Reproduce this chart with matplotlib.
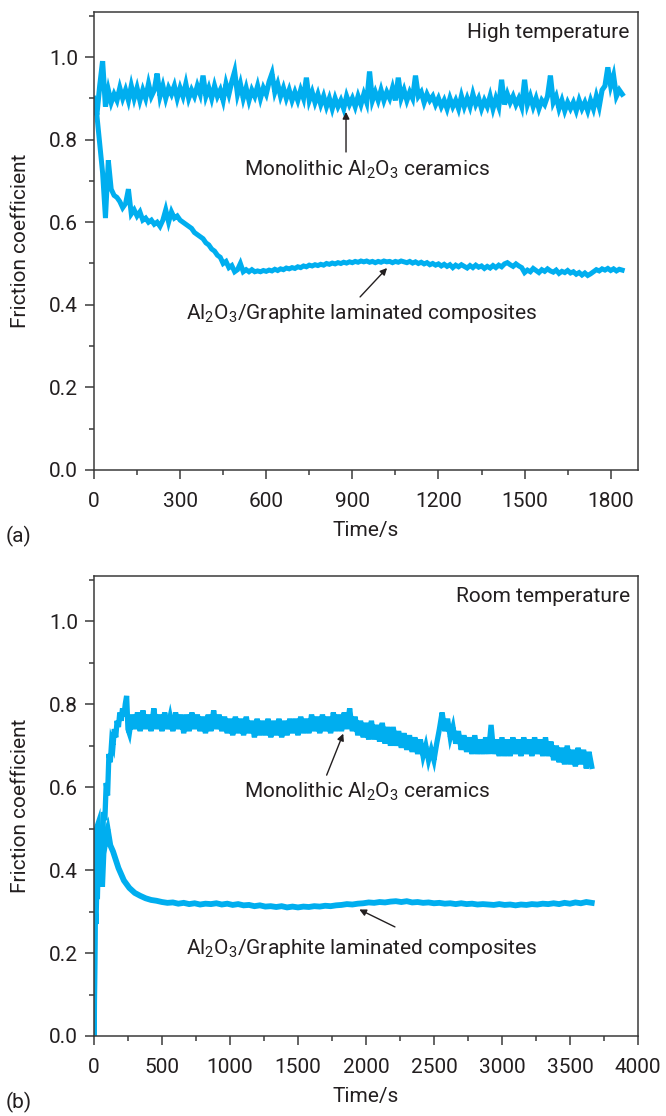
import numpy as np
import matplotlib
matplotlib.use("Agg")
import matplotlib.pyplot as plt
from matplotlib import font_manager
from matplotlib.ticker import MultipleLocator

# ---------------- data ----------------
# (a) high temperature, t = 0..1840 s every 10 s
t_high = np.arange(0, 1841, 10)
ceramic_high = [
    0.89, 0.86, 0.93, 0.99, 0.88, 0.92, 0.89, 0.91, 0.895, 0.925,
    0.90, 0.92, 0.895, 0.93, 0.90, 0.925, 0.895, 0.92, 0.90, 0.935,
    0.905, 0.92, 0.96, 0.905, 0.93, 0.90, 0.925, 0.91, 0.93, 0.90,
    0.925, 0.905, 0.935, 0.90, 0.92, 0.905, 0.93, 0.91, 0.955, 0.905,
    0.925, 0.90, 0.93, 0.905, 0.92, 0.895, 0.935, 0.91, 0.94, 0.965,
    0.91, 0.935, 0.90, 0.925, 0.895, 0.92, 0.905, 0.93, 0.90, 0.925,
    0.91, 0.94, 0.96, 0.915, 0.935, 0.905, 0.925, 0.90, 0.92, 0.895,
    0.915, 0.895, 0.92, 0.90, 0.95, 0.895, 0.915, 0.89, 0.91, 0.885,
    0.905, 0.88, 0.90, 0.875, 0.90, 0.88, 0.895, 0.875, 0.905, 0.885,
    0.90, 0.88, 0.905, 0.885, 0.91, 0.89, 0.965, 0.895, 0.915, 0.895,
    0.92, 0.895, 0.915, 0.90, 0.925, 0.895, 0.95, 0.90, 0.92, 0.895,
    0.915, 0.90, 0.955, 0.905, 0.915, 0.89, 0.91, 0.895, 0.905, 0.885,
    0.90, 0.88, 0.895, 0.875, 0.90, 0.88, 0.895, 0.875, 0.905, 0.88,
    0.90, 0.88, 0.91, 0.885, 0.90, 0.875, 0.895, 0.88, 0.905, 0.875,
    0.90, 0.88, 0.945, 0.885, 0.91, 0.89, 0.905, 0.885, 0.90, 0.88,
    0.945, 0.885, 0.905, 0.88, 0.90, 0.875, 0.895, 0.885, 0.905, 0.955,
    0.89, 0.905, 0.875, 0.895, 0.87, 0.89, 0.875, 0.89, 0.87, 0.895,
    0.875, 0.89, 0.87, 0.895, 0.875, 0.905, 0.88, 0.92, 0.93, 0.975,
    0.93, 0.955, 0.905, 0.92, 0.91,
]
composite_high = [
    0.90, 0.86, 0.79, 0.72, 0.61, 0.75, 0.68, 0.665, 0.66, 0.65,
    0.635, 0.645, 0.68, 0.62, 0.63, 0.615, 0.625, 0.605, 0.61, 0.60,
    0.605, 0.595, 0.60, 0.59, 0.605, 0.63, 0.60, 0.625, 0.61, 0.615,
    0.605, 0.60, 0.595, 0.59, 0.585, 0.575, 0.57, 0.565, 0.56, 0.55,
    0.545, 0.535, 0.53, 0.52, 0.515, 0.50, 0.505, 0.49, 0.495, 0.48,
    0.485, 0.50, 0.48, 0.485, 0.48, 0.485, 0.48, 0.482, 0.48, 0.483,
    0.481, 0.484, 0.482, 0.486, 0.483, 0.487, 0.485, 0.489, 0.487, 0.49,
    0.488, 0.492, 0.49, 0.494, 0.492, 0.496, 0.494, 0.497, 0.495, 0.498,
    0.496, 0.50, 0.498, 0.501, 0.499, 0.502, 0.50, 0.503, 0.501, 0.504,
    0.502, 0.505, 0.503, 0.506, 0.504, 0.506, 0.503, 0.505, 0.502, 0.505,
    0.503, 0.506, 0.504, 0.505, 0.502, 0.505, 0.503, 0.506, 0.504, 0.502,
    0.505, 0.501, 0.504, 0.50, 0.503, 0.499, 0.502, 0.497, 0.50, 0.496,
    0.499, 0.494, 0.498, 0.493, 0.497, 0.49, 0.496, 0.492, 0.497, 0.493,
    0.489, 0.495, 0.49, 0.496, 0.491, 0.494, 0.488, 0.493, 0.489, 0.495,
    0.49, 0.496, 0.492, 0.499, 0.502, 0.497, 0.493, 0.499, 0.494, 0.49,
    0.478, 0.484, 0.48, 0.488, 0.483, 0.478, 0.485, 0.481, 0.487, 0.482,
    0.479, 0.484, 0.476, 0.481, 0.478, 0.483, 0.477, 0.48, 0.474, 0.478,
    0.472, 0.477, 0.471, 0.475, 0.48, 0.485, 0.482, 0.487, 0.484, 0.488,
    0.483, 0.487, 0.482, 0.486, 0.484,
]

# (b) room temperature
t_room_ceramic = np.concatenate([
    [0, 5, 10, 15, 20, 25, 30, 40, 50, 60, 70, 80, 90, 100, 110, 120, 130, 140,
     150, 160, 170, 180, 190, 200, 210, 220, 230, 240, 250, 260],
    np.arange(280, 3661, 20)])
ceramic_room = [
    0.0, 0.15, 0.30, 0.27, 0.35, 0.33, 0.40, 0.37, 0.46, 0.42,
    0.54, 0.52, 0.61, 0.58, 0.68, 0.66, 0.71, 0.70, 0.74, 0.72,
    0.76, 0.745, 0.78, 0.76, 0.79, 0.77, 0.80, 0.82, 0.74, 0.73,
    0.775, 0.74, 0.78, 0.735, 0.785, 0.74, 0.775, 0.735, 0.79, 0.74,
    0.775, 0.735, 0.78, 0.74, 0.77, 0.735, 0.78, 0.74, 0.775, 0.73,
    0.775, 0.735, 0.78, 0.74, 0.775, 0.735, 0.77, 0.73, 0.775, 0.735,
    0.785, 0.74, 0.775, 0.735, 0.77, 0.73, 0.765, 0.725, 0.77, 0.73,
    0.765, 0.725, 0.77, 0.73, 0.76, 0.72, 0.765, 0.725, 0.76, 0.725,
    0.765, 0.72, 0.76, 0.725, 0.765, 0.72, 0.76, 0.725, 0.765, 0.73,
    0.765, 0.725, 0.77, 0.73, 0.765, 0.73, 0.775, 0.735, 0.77, 0.73,
    0.775, 0.735, 0.77, 0.73, 0.78, 0.735, 0.775, 0.735, 0.78, 0.74,
    0.79, 0.735, 0.77, 0.725, 0.76, 0.72, 0.755, 0.715, 0.76, 0.715,
    0.75, 0.71, 0.755, 0.705, 0.745, 0.70, 0.745, 0.70, 0.735, 0.695,
    0.73, 0.69, 0.725, 0.685, 0.72, 0.68, 0.715, 0.675, 0.70, 0.665,
    0.69, 0.665, 0.705, 0.74, 0.78, 0.735, 0.765, 0.72, 0.745, 0.705,
    0.735, 0.69, 0.725, 0.685, 0.72, 0.68, 0.725, 0.68, 0.715, 0.68,
    0.72, 0.68, 0.75, 0.68, 0.715, 0.675, 0.72, 0.675, 0.715, 0.675,
    0.72, 0.68, 0.715, 0.675, 0.72, 0.68, 0.715, 0.675, 0.72, 0.68,
    0.715, 0.675, 0.72, 0.675, 0.71, 0.665, 0.70, 0.66, 0.695, 0.655,
    0.70, 0.655, 0.69, 0.65, 0.695, 0.655, 0.69, 0.645, 0.685, 0.65,
]
t_room_composite = np.concatenate([
    [0, 5, 10, 20, 30, 40, 50, 60, 70, 80, 90, 100, 110, 120],
    np.arange(140, 3661, 40)])
composite_room = [
    0.0, 0.30, 0.42, 0.50, 0.51, 0.40, 0.47, 0.36, 0.44, 0.46, 0.49, 0.50, 0.48, 0.46,
    0.445, 0.405, 0.375, 0.357, 0.345, 0.338, 0.332, 0.328, 0.326, 0.323,
    0.321, 0.322, 0.319, 0.321, 0.318, 0.32, 0.317, 0.319, 0.318, 0.32,
    0.317, 0.319, 0.316, 0.318, 0.315, 0.316, 0.313, 0.315, 0.312, 0.313,
    0.311, 0.313, 0.31, 0.312, 0.31, 0.312, 0.311, 0.313, 0.312, 0.314,
    0.313, 0.315, 0.316, 0.318, 0.317, 0.319, 0.32, 0.322, 0.321, 0.323,
    0.322, 0.324, 0.325, 0.323, 0.325, 0.322, 0.323, 0.321, 0.322, 0.32,
    0.321, 0.319, 0.32, 0.318, 0.32, 0.318, 0.319, 0.317, 0.318, 0.317,
    0.316, 0.318, 0.316, 0.317, 0.315, 0.317, 0.316, 0.318, 0.317, 0.319,
    0.318, 0.32, 0.318, 0.321, 0.319, 0.322, 0.32, 0.323, 0.321,
]

high_xticks = [0, 300, 600, 900, 1200, 1500, 1800]
room_xticks = [0, 500, 1000, 1500, 2000, 2500, 3000, 3500, 4000]
yticks = [0.0, 0.2, 0.4, 0.6, 0.8, 1.0]

# ---------------- style ----------------
available = {f.name for f in font_manager.fontManager.ttflist}
font = "DejaVu Sans"
for cand in ["Roboto", "Open Sans", "Lato"]:
    if cand in available:
        font = cand
        break
plt.rcParams["font.family"] = [font, "DejaVu Sans"]
plt.rcParams["mathtext.fontset"] = "custom"
plt.rcParams["mathtext.rm"] = font
FS = 15
TXT = "#231f20"
AX = "#3a3a3a"
LINE = "#00aeef"

fig = plt.figure(figsize=(6.66, 11.16), dpi=100)
ax1 = fig.add_axes([0.1411, 0.5789, 0.8168, 0.4107])
ax2 = fig.add_axes([0.1411, 0.0717, 0.8168, 0.4125])

ax1.plot(t_high, composite_high, color=LINE, lw=3.6, solid_joinstyle="miter")
ax1.plot(t_high, ceramic_high, color=LINE, lw=3.7, solid_joinstyle="miter")
ax2.plot(t_room_composite, composite_room, color=LINE, lw=4.2, solid_joinstyle="miter")
ax2.plot(t_room_ceramic, ceramic_room, color=LINE, lw=3.8, solid_joinstyle="miter")

ax1.set_xlim(0, 1895)
ax2.set_xlim(0, 4000)
for ax, xt, minor in [(ax1, high_xticks, 150), (ax2, room_xticks, 250)]:
    ax.set_ylim(0, 1.11)
    ax.set_xticks(xt)
    ax.set_yticks(yticks)
    ax.set_yticklabels([f"{v:.1f}" for v in yticks])
    ax.xaxis.set_minor_locator(MultipleLocator(minor))
    ax.yaxis.set_minor_locator(MultipleLocator(0.1))
    ax.tick_params(which="major", direction="out", length=6.5, width=1.1, color=AX,
                   labelsize=FS, labelcolor=TXT, top=False, right=False)
    ax.tick_params(axis="x", which="major", pad=9.5)
    ax.tick_params(axis="y", which="major", pad=5)
    ax.tick_params(which="minor", direction="out", length=3.6, width=1.1, color=AX,
                   top=False, right=False)
    for s in ax.spines.values():
        s.set_color(AX)
        s.set_linewidth(1.1)
    ax.set_ylabel("Friction coefficient", fontsize=FS, color=TXT)
    ax.set_xlabel("Time/s", fontsize=FS, color=TXT, labelpad=7)
    ax.yaxis.set_label_coords(-0.118, 0.5)

ax1.text(0.985, 0.955, "High temperature", transform=ax1.transAxes, ha="right", va="center",
         fontsize=FS, color=TXT)
ax2.text(0.985, 0.955, "Room temperature", transform=ax2.transAxes, ha="right", va="center",
         fontsize=FS, color=TXT)

arrow = dict(arrowstyle="-|>", color=TXT, lw=1.0, mutation_scale=10, shrinkA=0, shrinkB=0)
ax1.annotate("", xy=(878, 0.867), xytext=(878, 0.77), arrowprops=arrow)
ax1.text(951, 0.726, r"Monolithic Al$_\mathregular{2}$O$_\mathregular{3}$ ceramics",
         ha="center", va="center", fontsize=FS, color=TXT)
ax1.annotate("", xy=(1021, 0.489), xytext=(927, 0.419), arrowprops=arrow)
ax1.text(934, 0.38, r"Al$_\mathregular{2}$O$_\mathregular{3}$/Graphite laminated composites",
         ha="center", va="center", fontsize=FS, color=TXT)

ax2.annotate("", xy=(1833, 0.729), xytext=(1711, 0.629), arrowprops=arrow)
ax2.text(2007, 0.589, r"Monolithic Al$_\mathregular{2}$O$_\mathregular{3}$ ceramics",
         ha="center", va="center", fontsize=FS, color=TXT)
ax2.annotate("", xy=(1951, 0.305), xytext=(2213, 0.263), arrowprops=arrow)
ax2.text(1971, 0.211, r"Al$_\mathregular{2}$O$_\mathregular{3}$/Graphite laminated composites",
         ha="center", va="center", fontsize=FS, color=TXT)

fig.text(6 / 666, 1 - 536 / 1116, "(a)", ha="left", va="center", fontsize=FS, color=TXT)
fig.text(6 / 666, 1 - 1102 / 1116, "(b)", ha="left", va="center", fontsize=FS, color=TXT)

fig.savefig("out.png", dpi=100)
